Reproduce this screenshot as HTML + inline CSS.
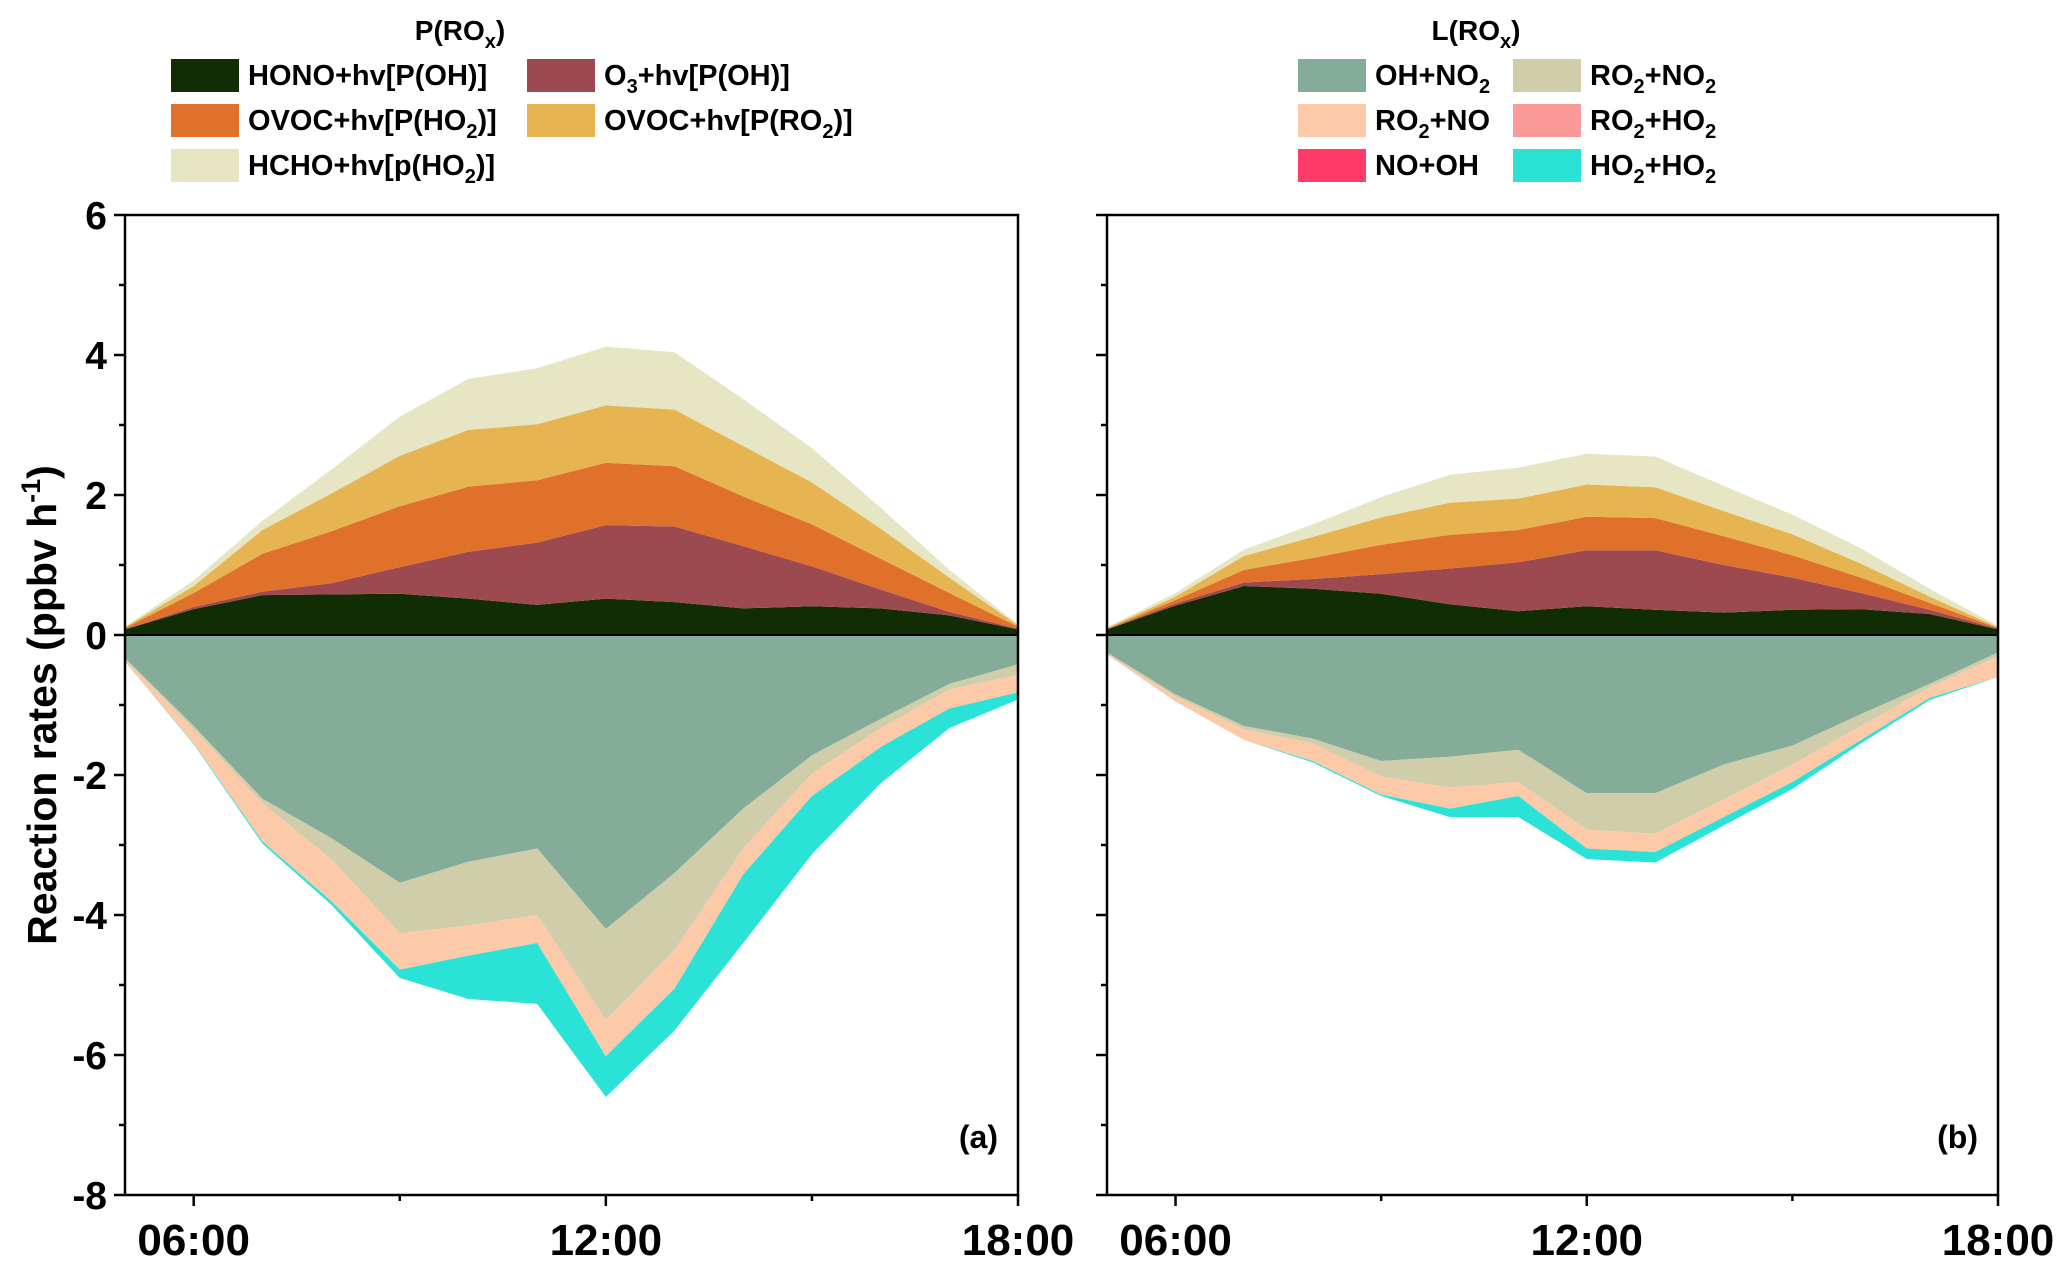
<!DOCTYPE html>
<html><head><meta charset="utf-8"><style>
body{margin:0;background:#fff}
svg{display:block;font-family:"Liberation Sans",Arial,sans-serif;font-weight:bold}
</style></head><body>
<svg id="chart" width="2067" height="1265" viewBox="0 0 2067 1265" xmlns="http://www.w3.org/2000/svg">
<g id="legends"></g>
<g id="panels"></g>
<text transform="translate(56,705) rotate(-90)" text-anchor="middle" font-size="41">Reaction rates (ppbv h<tspan dy="-16" font-size="27">-1</tspan><tspan dy="16">)</tspan></text>
</svg>
<script>
const hours=[5,6,7,8,9,10,11,12,13,14,15,16,17,18];
const yTicks=[-8,-6,-4,-2,0,2,4,6];
const xTickHours=[6,12,18];
const xTickLabels=["06:00","12:00","18:00"];
const prodNames=["HONO+hv[P(OH)]","O3+hv[P(OH)]","OVOC+hv[P(HO2)]","OVOC+hv[P(RO2)]","HCHO+hv[p(HO2)]"];
const lossNames=["OH+NO2","RO2+NO2","RO2+NO","RO2+HO2","NO+OH","HO2+HO2"];
// Panel (a)
const aHONO=[0.08,0.37,0.57,0.58,0.59,0.52,0.43,0.52,0.47,0.38,0.41,0.38,0.28,0.08];
const aO3=[0,0.03,0.05,0.16,0.38,0.67,0.89,1.05,1.08,0.89,0.57,0.27,0.05,0.01];
const aOVOCHO2=[0.02,0.2,0.54,0.74,0.87,0.93,0.89,0.89,0.86,0.71,0.6,0.44,0.27,0.03];
const aOVOCRO2=[0.01,0.1,0.34,0.54,0.72,0.81,0.8,0.82,0.81,0.72,0.6,0.43,0.22,0.02];
const aHCHO=[0.01,0.08,0.13,0.34,0.56,0.73,0.8,0.84,0.82,0.67,0.49,0.3,0.11,0.01];
const aOHNO2=[0.33,1.3,2.34,2.9,3.54,3.24,3.05,4.2,3.4,2.48,1.72,1.2,0.7,0.42];
const aRO2NO2=[0.02,0.05,0.06,0.3,0.72,0.91,0.95,1.3,1.1,0.57,0.26,0.13,0.08,0.15];
const aRO2NO=[0.03,0.2,0.55,0.6,0.52,0.43,0.4,0.52,0.55,0.37,0.32,0.27,0.27,0.25];
const aRO2HO2=[0,0,0,0,0,0,0,0,0,0,0,0,0,0];
const aNOOH=[0,0,0,0,0,0,0,0,0,0,0,0,0,0];
const aHO2HO2=[0,0.01,0.03,0.05,0.12,0.62,0.87,0.58,0.6,0.98,0.83,0.52,0.28,0.1];
// Panel (b)
const bHONO=[0.08,0.42,0.7,0.66,0.59,0.44,0.34,0.41,0.36,0.32,0.36,0.37,0.3,0.08];
const bO3=[0,0.03,0.05,0.14,0.28,0.51,0.7,0.8,0.85,0.68,0.46,0.23,0.06,0.01];
const bOVOCHO2=[0.01,0.05,0.18,0.3,0.42,0.48,0.46,0.48,0.46,0.41,0.32,0.22,0.1,0.01];
const bOVOCRO2=[0.01,0.05,0.2,0.3,0.39,0.46,0.45,0.46,0.44,0.36,0.3,0.2,0.09,0.01];
const bHCHO=[0.01,0.05,0.09,0.18,0.29,0.4,0.44,0.44,0.44,0.36,0.28,0.22,0.11,0.02];
const bOHNO2=[0.25,0.85,1.3,1.48,1.8,1.74,1.64,2.26,2.26,1.85,1.58,1.13,0.7,0.25];
const bRO2NO2=[0.02,0.03,0.05,0.07,0.22,0.44,0.46,0.52,0.58,0.5,0.27,0.17,0.05,0.05];
const bRO2NO=[0.01,0.07,0.15,0.25,0.26,0.3,0.2,0.27,0.26,0.25,0.25,0.2,0.15,0.3];
const bRO2HO2=[0,0,0,0,0,0,0,0,0,0,0,0,0,0];
const bNOOH=[0,0,0,0,0,0,0,0,0,0,0,0,0,0];
const bHO2HO2=[0,0,0,0.02,0.02,0.12,0.3,0.15,0.15,0.12,0.1,0.05,0.03,0];

const prodColors=["#112d05","#9c4a50","#e0712a","#e6b552","#e6e6c4"];
const lossColors=["#84ac99","#cfcdaa","#fccaa9","#fc9a9a","#ff3a66","#2ae3d6"];
const NS="http://www.w3.org/2000/svg";
function mk(tag,attrs,parent){const e=document.createElementNS(NS,tag);for(const k in attrs)e.setAttribute(k,attrs[k]);parent.appendChild(e);return e;}
const yTop=215,yBot=1195,yMin=-8,yMax=6;
function yS(v){return yTop+(yMax-v)/(yMax-yMin)*(yBot-yTop);}
const panels=document.getElementById('panels');
function drawPanel(id,x0,x1,prod,loss,label,showLabels){
  const xS=h=>x0+(h-5)/13*(x1-x0);
  const g=mk('g',{},panels);
  
  
  let base=hours.map(()=>0);
  prod.forEach((s,i)=>{
    const top=base.map((b,j)=>b+s[j]);
    let d='M'+hours.map((h,j)=>xS(h)+','+yS(top[j])).join('L');
    for(let j=hours.length-1;j>=0;j--)d+='L'+xS(hours[j])+','+yS(base[j]);
    const p=mk('path',{d:d+'Z',fill:prodColors[i]},g);
    
    
    base=top;
  });
  base=hours.map(()=>0);
  loss.forEach((s,i)=>{
    const top=base.map((b,j)=>b-s[j]);
    let d='M'+hours.map((h,j)=>xS(h)+','+yS(top[j])).join('L');
    for(let j=hours.length-1;j>=0;j--)d+='L'+xS(hours[j])+','+yS(base[j]);
    const p=mk('path',{d:d+'Z',fill:lossColors[i]},g);
    
    
    base=top;
  });
  const z=mk('line',{x1:x0,x2:x1,y1:yS(0),y2:yS(0),stroke:'#000','stroke-width':2},g);
  
  
  const fr=mk('rect',{x:x0,y:yTop,width:x1-x0,height:yBot-yTop,fill:'none',stroke:'#000','stroke-width':2.5},g);
  
  
  for(let v=yMin;v<=yMax;v++){
    const major=v%2===0;
    mk('line',{x1:x0,x2:x0-(major?11:6),y1:yS(v),y2:yS(v),stroke:'#000','stroke-width':2.5},g);
  }
  if(showLabels){yTicks.forEach(v=>{
    const t=mk('text',{x:x0-18,y:yS(v)+14,'text-anchor':'end','font-size':39},g);
    t.textContent=v;
    
    
  });}
  for(let h=6;h<=18;h+=3){
    const major=h%6===0;
    mk('line',{x1:xS(h),x2:xS(h),y1:yBot,y2:yBot+(major?11:6),stroke:'#000','stroke-width':2.5},g);
  }
  xTickHours.forEach((h,i)=>{
    const t=mk('text',{x:xS(h),y:1255,'text-anchor':'middle','font-size':44},g);
    t.textContent=xTickLabels[i];
    
    
  });
  const pl=mk('text',{x:x1-20,y:1148,'text-anchor':'end','font-size':32},g);
  pl.textContent=label;
  
  
}
drawPanel('a',125,1018,[aHONO,aO3,aOVOCHO2,aOVOCRO2,aHCHO],[aOHNO2,aRO2NO2,aRO2NO,aRO2HO2,aNOOH,aHO2HO2],'(a)',true);
drawPanel('b',1107,1998,[bHONO,bO3,bOVOCHO2,bOVOCRO2,bHCHO],[bOHNO2,bRO2NO2,bRO2NO,bRO2HO2,bNOOH,bHO2HO2],'(b)',false);

const lg=document.getElementById('legends');
function legTitle(x,txt){
  const t=mk('text',{x:x,y:40,'text-anchor':'middle','font-size':28},lg);
  t.innerHTML=txt.replace(/_(\w)/g,'<tspan dy="8" font-size="20">$1</tspan><tspan dy="-8">\u200B</tspan>');
  
  
}
legTitle(460,'P(RO_x)');
legTitle(1476,'L(RO_x)');
function legEntry(sx,tx,row,color,txt){
  const cy=[75,120,165][row];
  const r=mk('rect',{x:sx,y:cy-16,width:68,height:33,fill:color},lg);
  
  
  const t=mk('text',{x:tx,y:cy+10,'font-size':29},lg);
  t.innerHTML=txt.replace(/_(\w)/g,'<tspan dy="8" font-size="20">$1</tspan><tspan dy="-8">\u200B</tspan>');
  
  
}
legEntry(171,248,0,prodColors[0],'HONO+hv[P(OH)]');
legEntry(527,604,0,prodColors[1],'O_3+hv[P(OH)]');
legEntry(171,248,1,prodColors[2],'OVOC+hv[P(HO_2)]');
legEntry(527,604,1,prodColors[3],'OVOC+hv[P(RO_2)]');
legEntry(171,248,2,prodColors[4],'HCHO+hv[p(HO_2)]');
legEntry(1298,1375,0,lossColors[0],'OH+NO_2');
legEntry(1513,1590,0,lossColors[1],'RO_2+NO_2');
legEntry(1298,1375,1,lossColors[2],'RO_2+NO');
legEntry(1513,1590,1,lossColors[3],'RO_2+HO_2');
legEntry(1298,1375,2,lossColors[4],'NO+OH');
legEntry(1513,1590,2,lossColors[5],'HO_2+HO_2');
</script>
</body></html>
